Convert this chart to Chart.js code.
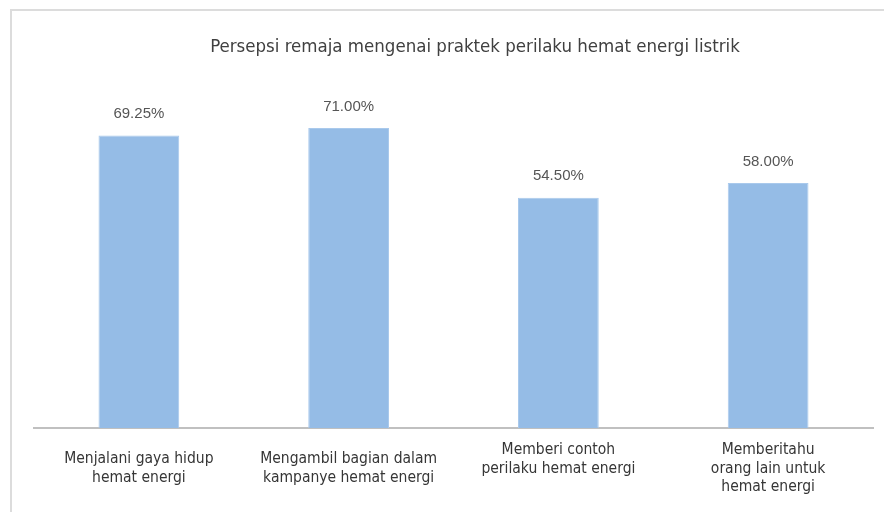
<!DOCTYPE html>
<html>
<head>
<meta charset="utf-8">
<script src="https://cdn.jsdelivr.net/npm/chart.js@4/dist/chart.umd.min.js"></script>
<style>
  html, body { margin: 0; padding: 0; background: #fff; }
  #wrap { position: relative; width: 884px; height: 512px; overflow: hidden; }
  #frame { position: absolute; left: 10px; top: 9px; width: 900px; height: 600px;
           border-left: 2px solid #dcdcdc; border-top: 2px solid #dcdcdc; }
  canvas { position: absolute; left: 0; top: 0; }
</style>
</head>
<body>
<div id="wrap">
  <div id="frame"></div>
  <canvas id="chart" width="884" height="512"></canvas>
</div>
<script>
'use strict';

var chartTitle = 'Persepsi remaja mengenai praktek perilaku hemat energi listrik';
var categories = [
    ['Menjalani gaya hidup', 'hemat energi'],
    ['Mengambil bagian dalam', 'kampanye hemat energi'],
    ['Memberi contoh', 'perilaku hemat energi', ''],
    ['Memberitahu', 'orang lain untuk', 'hemat energi']
];
var percentages = [69.25, 71.00, 54.50, 58.00];

// title sits a bit right of the plot centre in the original, so draw it ourselves
var titleText = {
    id: 'titleText',
    afterDraw: function(chart) {
        var ctx = chart.ctx;
        ctx.save();
        ctx.font = '18.5px "DejaVu Sans Condensed", "DejaVu Sans", sans-serif';
        ctx.fillStyle = '#404040';
        ctx.textAlign = 'center';
        ctx.textBaseline = 'middle';
        ctx.fillText(chartTitle, 475, 47);
        ctx.restore();
    }
};

// value labels above each bar
var valueLabels = {
    id: 'valueLabels',
    afterDatasetsDraw: function(chart) {
        var ctx = chart.ctx;
        var meta = chart.getDatasetMeta(0);
        ctx.save();
        ctx.font = '15px "Liberation Sans", Arial, sans-serif';
        ctx.fillStyle = '#555555';
        ctx.textAlign = 'center';
        ctx.textBaseline = 'bottom';
        meta.data.forEach(function(bar, i) {
            ctx.fillText(percentages[i].toFixed(2) + '%', bar.x, bar.y - 14);
        });
        ctx.restore();
    }
};

function barFill(context) {
    var chart = context.chart;
    var el = context.element;
    if (!el || !isFinite(el.x) || !isFinite(el.width)) return '#95bce6';
    var half = el.width / 2;
    var g = chart.ctx.createLinearGradient(el.x - half, 0, el.x + half, 0);
    g.addColorStop(0, '#88b1df');
    g.addColorStop(0.5, '#9bc2ec');
    g.addColorStop(1, '#88b1df');
    return g;
}

new Chart(document.getElementById('chart'), {
    type: 'bar',
    data: {
        labels: categories,
        datasets: [{
            data: percentages,
            backgroundColor: barFill,
            borderColor: '#a9c9ec',
            borderWidth: 1,
            categoryPercentage: 1.0,
            barPercentage: 0.385
        }]
    },
    options: {
        responsive: false,
        animation: false,
        layout: { padding: { left: 34, right: 11, top: 90, bottom: 12 } },
        plugins: {
            legend: { display: false },
            tooltip: { enabled: false },
            title: { display: false }
        },
        scales: {
            x: {
                grid: { display: false },
                border: { display: true, color: '#c0c0c0', width: 2 },
                ticks: {
                    color: '#363636',
                    font: { family: '"DejaVu Sans Condensed", "DejaVu Sans", sans-serif', size: 15.5, lineHeight: 1.2 },
                    padding: 14,
                    maxRotation: 0,
                    autoSkip: false,
                    crossAlign: 'center'
                },
                afterFit: function(scale) {
                    scale.height = 72;
                }
            },
            y: {
                display: false,
                min: 0,
                max: 80
            }
        }
    },
    plugins: [valueLabels, titleText]
});
</script>
</body>
</html>
